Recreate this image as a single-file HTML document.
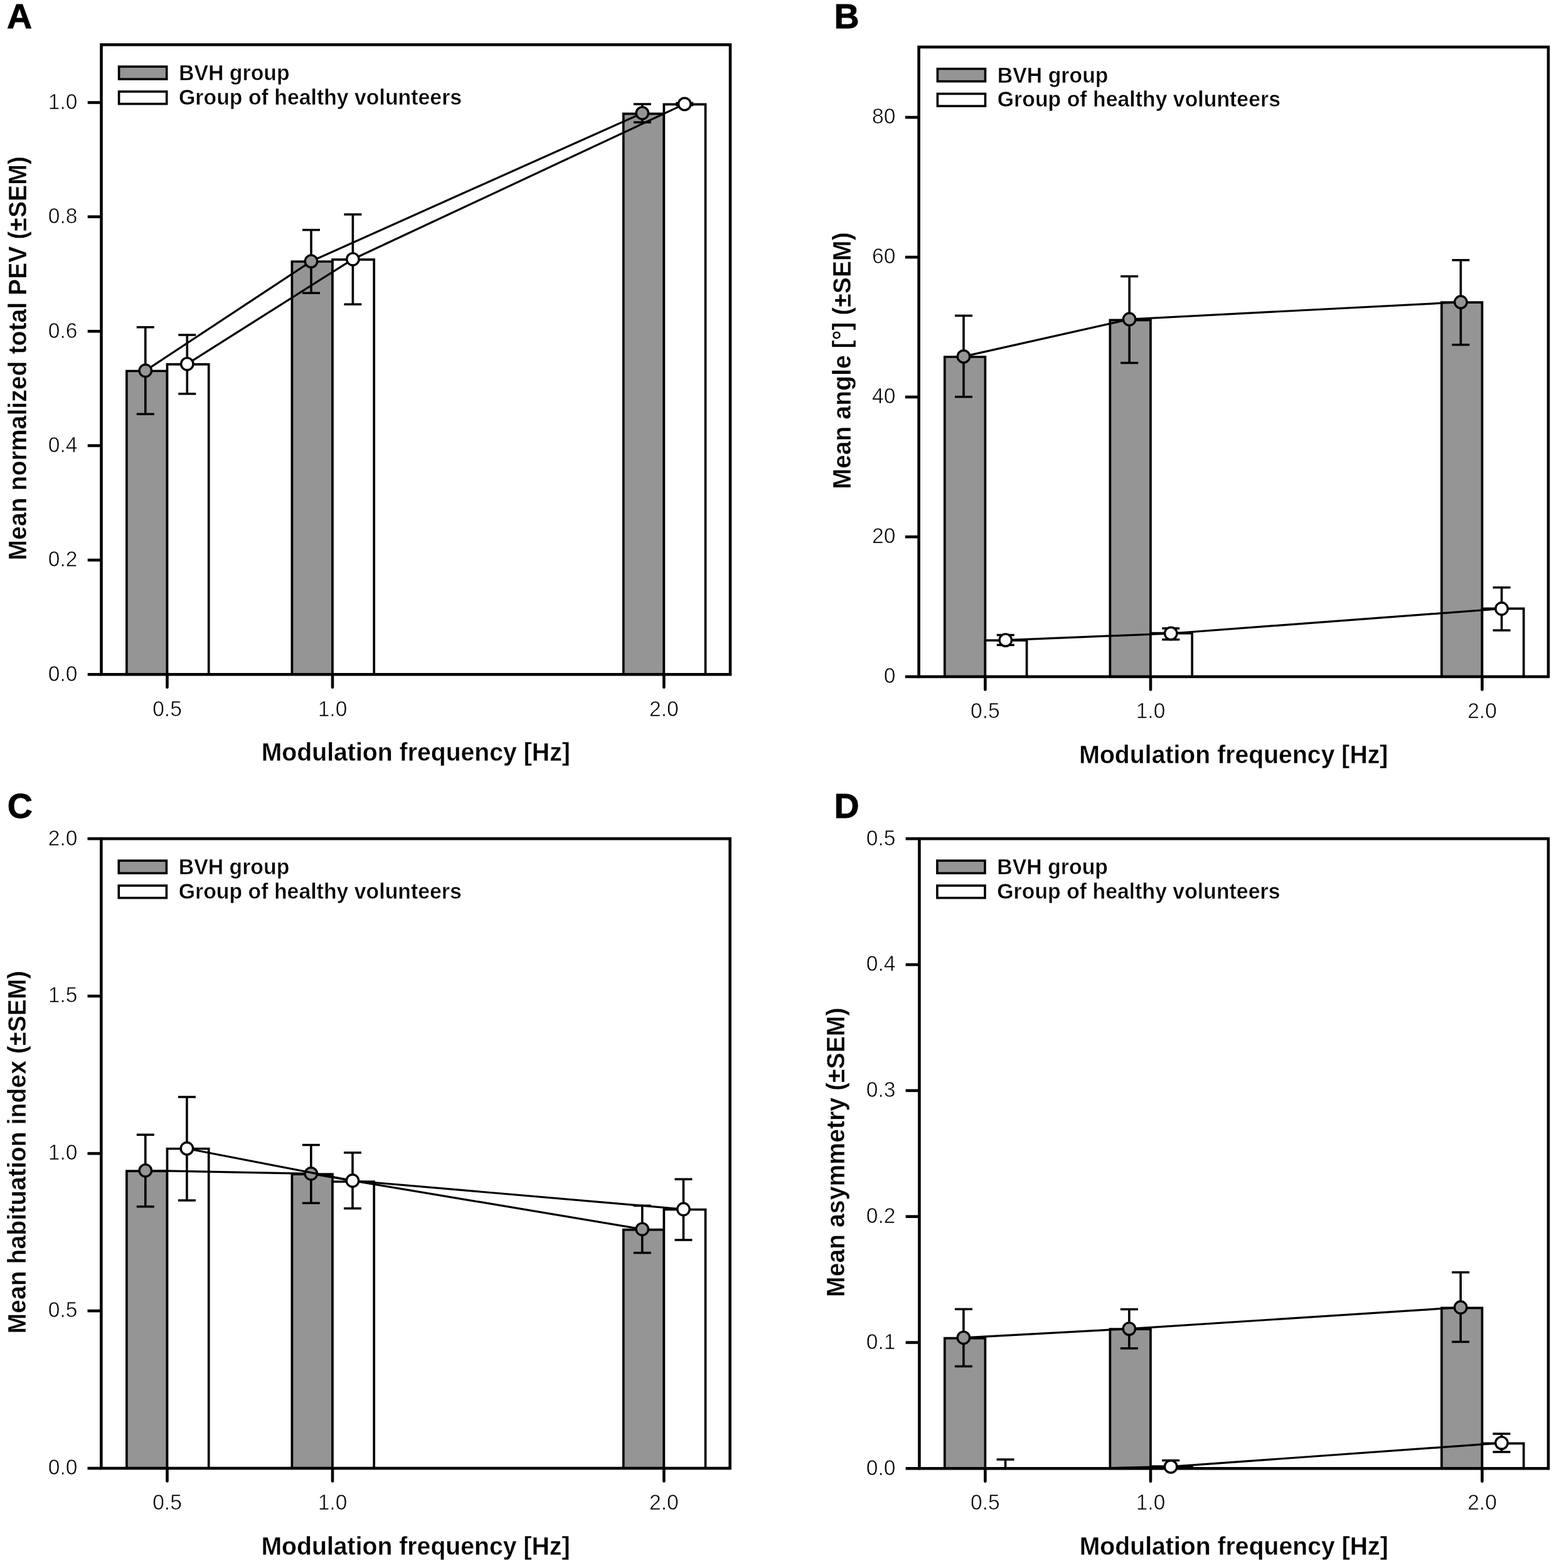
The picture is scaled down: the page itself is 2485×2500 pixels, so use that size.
<!DOCTYPE html><html><head><meta charset="utf-8"><title>Figure</title>
<style>html,body{margin:0;padding:0;background:#fff;}svg{display:block;}text{font-family:'Liberation Sans', Arial, Helvetica, sans-serif;fill:#000;}</style></head><body>
<svg width="2485" height="2500" viewBox="0 0 2485 2500">
<rect width="2485" height="2500" fill="#fff"/>
<g stroke="#000" fill="none">
<path d="M201.9 1075.3V591.5H266.5V1075.3" fill="#959595" stroke-width="3.7" stroke-linejoin="miter"/>
<path d="M266.5 1075.3V580.8H332.7V1075.3" fill="#fff" stroke-width="3.7" stroke-linejoin="miter"/>
<path d="M465.4 1075.3V417H530V1075.3" fill="#959595" stroke-width="3.7" stroke-linejoin="miter"/>
<path d="M530 1075.3V413.9H596.2V1075.3" fill="#fff" stroke-width="3.7" stroke-linejoin="miter"/>
<path d="M993.7 1075.3V181.3H1058.3V1075.3" fill="#959595" stroke-width="3.7" stroke-linejoin="miter"/>
<path d="M1058.3 1075.3V166.3H1124.5V1075.3" fill="#fff" stroke-width="3.7" stroke-linejoin="miter"/>
</g>
<rect x="161.5" y="71.3" width="1002.5" height="1004" fill="none" stroke="#000" stroke-width="4.6"/>
<g stroke="#000" fill="none">
<line x1="139.7" y1="1075.3" x2="161.5" y2="1075.3" stroke-width="4.6" stroke-linecap="butt"/>
<line x1="139.7" y1="893" x2="161.5" y2="893" stroke-width="4.6" stroke-linecap="butt"/>
<line x1="139.7" y1="710.5" x2="161.5" y2="710.5" stroke-width="4.6" stroke-linecap="butt"/>
<line x1="139.7" y1="528.2" x2="161.5" y2="528.2" stroke-width="4.6" stroke-linecap="butt"/>
<line x1="139.7" y1="345.6" x2="161.5" y2="345.6" stroke-width="4.6" stroke-linecap="butt"/>
<line x1="139.7" y1="163.5" x2="161.5" y2="163.5" stroke-width="4.6" stroke-linecap="butt"/>
<line x1="266.5" y1="1075.3" x2="266.5" y2="1095.8" stroke-width="4.6" stroke-linecap="round"/>
<line x1="530" y1="1075.3" x2="530" y2="1095.8" stroke-width="4.6" stroke-linecap="round"/>
<line x1="1058.3" y1="1075.3" x2="1058.3" y2="1095.8" stroke-width="4.6" stroke-linecap="round"/>
</g>
<g stroke="#000" fill="none">
<clipPath id="cAg"><rect x="161.5" y="71.3" width="1002.5" height="1004"/></clipPath>
<polyline points="231.8,591 496,416.6 1023.8,180.3" stroke-width="3.2" stroke-linejoin="round" clip-path="url(#cAg)"/>
<line x1="231.8" y1="521.7" x2="231.8" y2="660.2" stroke-width="3.6" stroke-linecap="butt"/>
<line x1="217.8" y1="521.7" x2="245.8" y2="521.7" stroke-width="3.5" stroke-linecap="butt"/>
<line x1="217.8" y1="660.2" x2="245.8" y2="660.2" stroke-width="3.5" stroke-linecap="butt"/>
<line x1="496" y1="366.6" x2="496" y2="467.2" stroke-width="3.6" stroke-linecap="butt"/>
<line x1="482" y1="366.6" x2="510" y2="366.6" stroke-width="3.5" stroke-linecap="butt"/>
<line x1="482" y1="467.2" x2="510" y2="467.2" stroke-width="3.5" stroke-linecap="butt"/>
<line x1="1023.8" y1="166" x2="1023.8" y2="195" stroke-width="3.6" stroke-linecap="butt"/>
<line x1="1009.8" y1="166" x2="1037.8" y2="166" stroke-width="3.5" stroke-linecap="butt"/>
<line x1="1009.8" y1="195" x2="1037.8" y2="195" stroke-width="3.5" stroke-linecap="butt"/>
<circle cx="231.8" cy="591" r="9.7" fill="#959595" stroke-width="3.4"/>
<circle cx="496" cy="416.6" r="9.7" fill="#959595" stroke-width="3.4"/>
<circle cx="1023.8" cy="180.3" r="9.7" fill="#959595" stroke-width="3.4"/>
</g>
<g stroke="#000" fill="none">
<clipPath id="cAw"><rect x="161.5" y="71.3" width="1002.5" height="1004"/></clipPath>
<polyline points="298.3,580.3 562.4,413.3 1091.2,165.9" stroke-width="3.2" stroke-linejoin="round" clip-path="url(#cAw)"/>
<line x1="298.3" y1="534" x2="298.3" y2="627.9" stroke-width="3.6" stroke-linecap="butt"/>
<line x1="284.3" y1="534" x2="312.3" y2="534" stroke-width="3.5" stroke-linecap="butt"/>
<line x1="284.3" y1="627.9" x2="312.3" y2="627.9" stroke-width="3.5" stroke-linecap="butt"/>
<line x1="562.4" y1="341.9" x2="562.4" y2="485.2" stroke-width="3.6" stroke-linecap="butt"/>
<line x1="548.4" y1="341.9" x2="576.4" y2="341.9" stroke-width="3.5" stroke-linecap="butt"/>
<line x1="548.4" y1="485.2" x2="576.4" y2="485.2" stroke-width="3.5" stroke-linecap="butt"/>
<line x1="1091.2" y1="164.3" x2="1091.2" y2="167.6" stroke-width="3.6" stroke-linecap="butt"/>
<line x1="1077.2" y1="164.3" x2="1105.2" y2="164.3" stroke-width="3.5" stroke-linecap="butt"/>
<line x1="1077.2" y1="167.6" x2="1105.2" y2="167.6" stroke-width="3.5" stroke-linecap="butt"/>
<circle cx="298.3" cy="580.3" r="9.7" fill="#fff" stroke-width="3.4"/>
<circle cx="562.4" cy="413.3" r="9.7" fill="#fff" stroke-width="3.4"/>
<circle cx="1091.2" cy="165.9" r="9.7" fill="#fff" stroke-width="3.4"/>
</g>
<text transform="translate(123.4 1085.6) scale(1 1.04)" font-size="33.6" font-weight="normal" text-anchor="end" stroke="#fff" stroke-width="0.6">0.0</text>
<text transform="translate(123.4 903.3) scale(1 1.04)" font-size="33.6" font-weight="normal" text-anchor="end" stroke="#fff" stroke-width="0.6">0.2</text>
<text transform="translate(123.4 720.8) scale(1 1.04)" font-size="33.6" font-weight="normal" text-anchor="end" stroke="#fff" stroke-width="0.6">0.4</text>
<text transform="translate(123.4 538.5) scale(1 1.04)" font-size="33.6" font-weight="normal" text-anchor="end" stroke="#fff" stroke-width="0.6">0.6</text>
<text transform="translate(123.4 355.9) scale(1 1.04)" font-size="33.6" font-weight="normal" text-anchor="end" stroke="#fff" stroke-width="0.6">0.8</text>
<text transform="translate(123.4 173.8) scale(1 1.04)" font-size="33.6" font-weight="normal" text-anchor="end" stroke="#fff" stroke-width="0.6">1.0</text>
<text transform="translate(266.5 1141.5) scale(1 1.04)" font-size="33.6" font-weight="normal" text-anchor="middle" stroke="#fff" stroke-width="0.6">0.5</text>
<text transform="translate(530 1141.5) scale(1 1.04)" font-size="33.6" font-weight="normal" text-anchor="middle" stroke="#fff" stroke-width="0.6">1.0</text>
<text transform="translate(1058.3 1141.5) scale(1 1.04)" font-size="33.6" font-weight="normal" text-anchor="middle" stroke="#fff" stroke-width="0.6">2.0</text>
<text transform="translate(662.75 1213.2) scale(1 1.04)" font-size="39.2" font-weight="bold" text-anchor="middle" stroke="#fff" stroke-width="0.35">Modulation frequency [Hz]</text>
<text transform="translate(41.8 571.3) rotate(-90) scale(1 1.04)" font-size="39.2" font-weight="bold" text-anchor="middle" stroke="#fff" stroke-width="0.35">Mean normalized total PEV (±SEM)</text>
<rect x="189.6" y="106.2" width="76.1" height="20" fill="#959595" stroke="#000" stroke-width="3.6"/>
<rect x="189.6" y="146" width="76.1" height="19.6" fill="#fff" stroke="#000" stroke-width="3.6"/>
<text transform="translate(285 128.3) scale(1 1.04)" font-size="33.85" font-weight="bold" text-anchor="start" stroke="#fff" stroke-width="0.5">BVH group</text>
<text transform="translate(285 166.6) scale(1 1.04)" font-size="33.85" font-weight="bold" text-anchor="start" stroke="#fff" stroke-width="0.5">Group of healthy volunteers</text>
<text transform="translate(11 45.3) scale(1 1.0)" font-size="55.5" font-weight="bold" text-anchor="start" stroke="#000" stroke-width="0.9">A</text>
<g stroke="#000" fill="none">
<path d="M1505.8 1078.9V569H1570.4V1078.9" fill="#959595" stroke-width="3.7" stroke-linejoin="miter"/>
<path d="M1570.4 1078.9V1021H1636.6V1078.9" fill="#fff" stroke-width="3.7" stroke-linejoin="miter"/>
<path d="M1769.4 1078.9V510.3H1834V1078.9" fill="#959595" stroke-width="3.7" stroke-linejoin="miter"/>
<path d="M1834 1078.9V1009.6H1900.2V1078.9" fill="#fff" stroke-width="3.7" stroke-linejoin="miter"/>
<path d="M2297.9 1078.9V482.1H2362.5V1078.9" fill="#959595" stroke-width="3.7" stroke-linejoin="miter"/>
<path d="M2362.5 1078.9V970.3H2428.7V1078.9" fill="#fff" stroke-width="3.7" stroke-linejoin="miter"/>
</g>
<rect x="1464.6" y="75" width="1003.4" height="1003.9" fill="none" stroke="#000" stroke-width="4.6"/>
<g stroke="#000" fill="none">
<line x1="1442.8" y1="1078.9" x2="1464.6" y2="1078.9" stroke-width="4.6" stroke-linecap="butt"/>
<line x1="1442.8" y1="855.95" x2="1464.6" y2="855.95" stroke-width="4.6" stroke-linecap="butt"/>
<line x1="1442.8" y1="633" x2="1464.6" y2="633" stroke-width="4.6" stroke-linecap="butt"/>
<line x1="1442.8" y1="410.05" x2="1464.6" y2="410.05" stroke-width="4.6" stroke-linecap="butt"/>
<line x1="1442.8" y1="187.1" x2="1464.6" y2="187.1" stroke-width="4.6" stroke-linecap="butt"/>
<line x1="1570.4" y1="1078.9" x2="1570.4" y2="1099.4" stroke-width="4.6" stroke-linecap="round"/>
<line x1="1834" y1="1078.9" x2="1834" y2="1099.4" stroke-width="4.6" stroke-linecap="round"/>
<line x1="2362.5" y1="1078.9" x2="2362.5" y2="1099.4" stroke-width="4.6" stroke-linecap="round"/>
</g>
<g stroke="#000" fill="none">
<clipPath id="cBg"><rect x="1464.6" y="75" width="1003.4" height="1003.9"/></clipPath>
<polyline points="1536,568.4 1800.2,509 2328.4,481.7" stroke-width="3.2" stroke-linejoin="round" clip-path="url(#cBg)"/>
<line x1="1536" y1="503.3" x2="1536" y2="632.7" stroke-width="3.6" stroke-linecap="butt"/>
<line x1="1522" y1="503.3" x2="1550" y2="503.3" stroke-width="3.5" stroke-linecap="butt"/>
<line x1="1522" y1="632.7" x2="1550" y2="632.7" stroke-width="3.5" stroke-linecap="butt"/>
<line x1="1800.2" y1="440.6" x2="1800.2" y2="578.6" stroke-width="3.6" stroke-linecap="butt"/>
<line x1="1786.2" y1="440.6" x2="1814.2" y2="440.6" stroke-width="3.5" stroke-linecap="butt"/>
<line x1="1786.2" y1="578.6" x2="1814.2" y2="578.6" stroke-width="3.5" stroke-linecap="butt"/>
<line x1="2328.4" y1="414.7" x2="2328.4" y2="549.7" stroke-width="3.6" stroke-linecap="butt"/>
<line x1="2314.4" y1="414.7" x2="2342.4" y2="414.7" stroke-width="3.5" stroke-linecap="butt"/>
<line x1="2314.4" y1="549.7" x2="2342.4" y2="549.7" stroke-width="3.5" stroke-linecap="butt"/>
<circle cx="1536" cy="568.4" r="9.7" fill="#959595" stroke-width="3.4"/>
<circle cx="1800.2" cy="509" r="9.7" fill="#959595" stroke-width="3.4"/>
<circle cx="2328.4" cy="481.7" r="9.7" fill="#959595" stroke-width="3.4"/>
</g>
<g stroke="#000" fill="none">
<clipPath id="cBw"><rect x="1464.6" y="75" width="1003.4" height="1003.9"/></clipPath>
<polyline points="1602.8,1020.6 1866.3,1010 2393.6,970.5" stroke-width="3.2" stroke-linejoin="round" clip-path="url(#cBw)"/>
<line x1="1602.8" y1="1012.5" x2="1602.8" y2="1028.4" stroke-width="3.6" stroke-linecap="butt"/>
<line x1="1588.8" y1="1012.5" x2="1616.8" y2="1012.5" stroke-width="3.5" stroke-linecap="butt"/>
<line x1="1588.8" y1="1028.4" x2="1616.8" y2="1028.4" stroke-width="3.5" stroke-linecap="butt"/>
<line x1="1866.3" y1="1001.9" x2="1866.3" y2="1019.7" stroke-width="3.6" stroke-linecap="butt"/>
<line x1="1852.3" y1="1001.9" x2="1880.3" y2="1001.9" stroke-width="3.5" stroke-linecap="butt"/>
<line x1="1852.3" y1="1019.7" x2="1880.3" y2="1019.7" stroke-width="3.5" stroke-linecap="butt"/>
<line x1="2393.6" y1="936.7" x2="2393.6" y2="1005" stroke-width="3.6" stroke-linecap="butt"/>
<line x1="2379.6" y1="936.7" x2="2407.6" y2="936.7" stroke-width="3.5" stroke-linecap="butt"/>
<line x1="2379.6" y1="1005" x2="2407.6" y2="1005" stroke-width="3.5" stroke-linecap="butt"/>
<circle cx="1602.8" cy="1020.6" r="9.7" fill="#fff" stroke-width="3.4"/>
<circle cx="1866.3" cy="1010" r="9.7" fill="#fff" stroke-width="3.4"/>
<circle cx="2393.6" cy="970.5" r="9.7" fill="#fff" stroke-width="3.4"/>
</g>
<text transform="translate(1427.4 1089.2) scale(1 1.04)" font-size="33.6" font-weight="normal" text-anchor="end" stroke="#fff" stroke-width="0.6">0</text>
<text transform="translate(1427.4 866.25) scale(1 1.04)" font-size="33.6" font-weight="normal" text-anchor="end" stroke="#fff" stroke-width="0.6">20</text>
<text transform="translate(1427.4 643.3) scale(1 1.04)" font-size="33.6" font-weight="normal" text-anchor="end" stroke="#fff" stroke-width="0.6">40</text>
<text transform="translate(1427.4 420.35) scale(1 1.04)" font-size="33.6" font-weight="normal" text-anchor="end" stroke="#fff" stroke-width="0.6">60</text>
<text transform="translate(1427.4 197.4) scale(1 1.04)" font-size="33.6" font-weight="normal" text-anchor="end" stroke="#fff" stroke-width="0.6">80</text>
<text transform="translate(1570.4 1145.2) scale(1 1.04)" font-size="33.6" font-weight="normal" text-anchor="middle" stroke="#fff" stroke-width="0.6">0.5</text>
<text transform="translate(1834 1145.2) scale(1 1.04)" font-size="33.6" font-weight="normal" text-anchor="middle" stroke="#fff" stroke-width="0.6">1.0</text>
<text transform="translate(2362.5 1145.2) scale(1 1.04)" font-size="33.6" font-weight="normal" text-anchor="middle" stroke="#fff" stroke-width="0.6">2.0</text>
<text transform="translate(1966.3 1216.8) scale(1 1.04)" font-size="39.2" font-weight="bold" text-anchor="middle" stroke="#fff" stroke-width="0.35">Modulation frequency [Hz]</text>
<text transform="translate(1355.6 574.95) rotate(-90) scale(1 1.04)" font-size="39.2" font-weight="bold" text-anchor="middle" stroke="#fff" stroke-width="0.35">Mean angle [°] (±SEM)</text>
<rect x="1494.4" y="109.7" width="76.1" height="20" fill="#959595" stroke="#000" stroke-width="3.6"/>
<rect x="1494.4" y="149.5" width="76.1" height="19.6" fill="#fff" stroke="#000" stroke-width="3.6"/>
<text transform="translate(1589.8 131.8) scale(1 1.04)" font-size="33.85" font-weight="bold" text-anchor="start" stroke="#fff" stroke-width="0.5">BVH group</text>
<text transform="translate(1589.8 170.1) scale(1 1.04)" font-size="33.85" font-weight="bold" text-anchor="start" stroke="#fff" stroke-width="0.5">Group of healthy volunteers</text>
<text transform="translate(1329.6 45) scale(1 1.0)" font-size="55.5" font-weight="bold" text-anchor="start" stroke="#000" stroke-width="0.9">B</text>
<g stroke="#000" fill="none">
<path d="M201.9 2341V1867.2H266.5V2341" fill="#959595" stroke-width="3.7" stroke-linejoin="miter"/>
<path d="M266.5 2341V1831.5H332.7V2341" fill="#fff" stroke-width="3.7" stroke-linejoin="miter"/>
<path d="M465.4 2341V1872.2H530V2341" fill="#959595" stroke-width="3.7" stroke-linejoin="miter"/>
<path d="M530 2341V1884H596.2V2341" fill="#fff" stroke-width="3.7" stroke-linejoin="miter"/>
<path d="M993.7 2341V1960.7H1058.3V2341" fill="#959595" stroke-width="3.7" stroke-linejoin="miter"/>
<path d="M1058.3 2341V1928.5H1124.5V2341" fill="#fff" stroke-width="3.7" stroke-linejoin="miter"/>
</g>
<rect x="161.3" y="1337.2" width="1002.3" height="1003.8" fill="none" stroke="#000" stroke-width="4.6"/>
<g stroke="#000" fill="none">
<line x1="139.5" y1="2341" x2="161.3" y2="2341" stroke-width="4.6" stroke-linecap="butt"/>
<line x1="139.5" y1="2090.05" x2="161.3" y2="2090.05" stroke-width="4.6" stroke-linecap="butt"/>
<line x1="139.5" y1="1839.1" x2="161.3" y2="1839.1" stroke-width="4.6" stroke-linecap="butt"/>
<line x1="139.5" y1="1588.15" x2="161.3" y2="1588.15" stroke-width="4.6" stroke-linecap="butt"/>
<line x1="139.5" y1="1337.2" x2="161.3" y2="1337.2" stroke-width="4.6" stroke-linecap="butt"/>
<line x1="266.5" y1="2341" x2="266.5" y2="2361.5" stroke-width="4.6" stroke-linecap="round"/>
<line x1="530" y1="2341" x2="530" y2="2361.5" stroke-width="4.6" stroke-linecap="round"/>
<line x1="1058.3" y1="2341" x2="1058.3" y2="2361.5" stroke-width="4.6" stroke-linecap="round"/>
</g>
<g stroke="#000" fill="none">
<clipPath id="cCg"><rect x="161.3" y="1337.2" width="1002.3" height="1003.8"/></clipPath>
<polyline points="231.8,1866.3 495.8,1871.3 1023.7,1959.8" stroke-width="3.2" stroke-linejoin="round" clip-path="url(#cCg)"/>
<line x1="231.8" y1="1809.2" x2="231.8" y2="1923.8" stroke-width="3.6" stroke-linecap="butt"/>
<line x1="217.8" y1="1809.2" x2="245.8" y2="1809.2" stroke-width="3.5" stroke-linecap="butt"/>
<line x1="217.8" y1="1923.8" x2="245.8" y2="1923.8" stroke-width="3.5" stroke-linecap="butt"/>
<line x1="495.8" y1="1825.5" x2="495.8" y2="1918.2" stroke-width="3.6" stroke-linecap="butt"/>
<line x1="481.8" y1="1825.5" x2="509.8" y2="1825.5" stroke-width="3.5" stroke-linecap="butt"/>
<line x1="481.8" y1="1918.2" x2="509.8" y2="1918.2" stroke-width="3.5" stroke-linecap="butt"/>
<line x1="1023.7" y1="1922.3" x2="1023.7" y2="1997.5" stroke-width="3.6" stroke-linecap="butt"/>
<line x1="1009.7" y1="1922.3" x2="1037.7" y2="1922.3" stroke-width="3.5" stroke-linecap="butt"/>
<line x1="1009.7" y1="1997.5" x2="1037.7" y2="1997.5" stroke-width="3.5" stroke-linecap="butt"/>
<circle cx="231.8" cy="1866.3" r="9.7" fill="#959595" stroke-width="3.4"/>
<circle cx="495.8" cy="1871.3" r="9.7" fill="#959595" stroke-width="3.4"/>
<circle cx="1023.7" cy="1959.8" r="9.7" fill="#959595" stroke-width="3.4"/>
</g>
<g stroke="#000" fill="none">
<clipPath id="cCw"><rect x="161.3" y="1337.2" width="1002.3" height="1003.8"/></clipPath>
<polyline points="297.9,1831.2 562,1882.5 1089.4,1928" stroke-width="3.2" stroke-linejoin="round" clip-path="url(#cCw)"/>
<line x1="297.9" y1="1749" x2="297.9" y2="1913.9" stroke-width="3.6" stroke-linecap="butt"/>
<line x1="283.9" y1="1749" x2="311.9" y2="1749" stroke-width="3.5" stroke-linecap="butt"/>
<line x1="283.9" y1="1913.9" x2="311.9" y2="1913.9" stroke-width="3.5" stroke-linecap="butt"/>
<line x1="562" y1="1837.8" x2="562" y2="1926.7" stroke-width="3.6" stroke-linecap="butt"/>
<line x1="548" y1="1837.8" x2="576" y2="1837.8" stroke-width="3.5" stroke-linecap="butt"/>
<line x1="548" y1="1926.7" x2="576" y2="1926.7" stroke-width="3.5" stroke-linecap="butt"/>
<line x1="1089.4" y1="1880.1" x2="1089.4" y2="1977" stroke-width="3.6" stroke-linecap="butt"/>
<line x1="1075.4" y1="1880.1" x2="1103.4" y2="1880.1" stroke-width="3.5" stroke-linecap="butt"/>
<line x1="1075.4" y1="1977" x2="1103.4" y2="1977" stroke-width="3.5" stroke-linecap="butt"/>
<circle cx="297.9" cy="1831.2" r="9.7" fill="#fff" stroke-width="3.4"/>
<circle cx="562" cy="1882.5" r="9.7" fill="#fff" stroke-width="3.4"/>
<circle cx="1089.4" cy="1928" r="9.7" fill="#fff" stroke-width="3.4"/>
</g>
<text transform="translate(123.4 2351.3) scale(1 1.04)" font-size="33.6" font-weight="normal" text-anchor="end" stroke="#fff" stroke-width="0.6">0.0</text>
<text transform="translate(123.4 2100.35) scale(1 1.04)" font-size="33.6" font-weight="normal" text-anchor="end" stroke="#fff" stroke-width="0.6">0.5</text>
<text transform="translate(123.4 1849.4) scale(1 1.04)" font-size="33.6" font-weight="normal" text-anchor="end" stroke="#fff" stroke-width="0.6">1.0</text>
<text transform="translate(123.4 1598.45) scale(1 1.04)" font-size="33.6" font-weight="normal" text-anchor="end" stroke="#fff" stroke-width="0.6">1.5</text>
<text transform="translate(123.4 1347.5) scale(1 1.04)" font-size="33.6" font-weight="normal" text-anchor="end" stroke="#fff" stroke-width="0.6">2.0</text>
<text transform="translate(266.5 2407) scale(1 1.04)" font-size="33.6" font-weight="normal" text-anchor="middle" stroke="#fff" stroke-width="0.6">0.5</text>
<text transform="translate(530 2407) scale(1 1.04)" font-size="33.6" font-weight="normal" text-anchor="middle" stroke="#fff" stroke-width="0.6">1.0</text>
<text transform="translate(1058.3 2407) scale(1 1.04)" font-size="33.6" font-weight="normal" text-anchor="middle" stroke="#fff" stroke-width="0.6">2.0</text>
<text transform="translate(662.45 2478.6) scale(1 1.04)" font-size="39.2" font-weight="bold" text-anchor="middle" stroke="#fff" stroke-width="0.35">Modulation frequency [Hz]</text>
<text transform="translate(41.3 1837.1) rotate(-90) scale(1 1.04)" font-size="39.2" font-weight="bold" text-anchor="middle" stroke="#fff" stroke-width="0.35">Mean habituation index (±SEM)</text>
<rect x="189.3" y="1372.2" width="76.1" height="20" fill="#959595" stroke="#000" stroke-width="3.6"/>
<rect x="189.3" y="1412" width="76.1" height="19.6" fill="#fff" stroke="#000" stroke-width="3.6"/>
<text transform="translate(284.7 1394.3) scale(1 1.04)" font-size="33.85" font-weight="bold" text-anchor="start" stroke="#fff" stroke-width="0.5">BVH group</text>
<text transform="translate(284.7 1432.6) scale(1 1.04)" font-size="33.85" font-weight="bold" text-anchor="start" stroke="#fff" stroke-width="0.5">Group of healthy volunteers</text>
<text transform="translate(11.8 1304) scale(1 1.0)" font-size="55.5" font-weight="bold" text-anchor="start" stroke="#000" stroke-width="0.9">C</text>
<g stroke="#000" fill="none">
<path d="M1505.8 2341.3V2133.7H1570.4V2341.3" fill="#959595" stroke-width="3.7" stroke-linejoin="miter"/>
<path d="M1769.4 2341.3V2119.2H1834V2341.3" fill="#959595" stroke-width="3.7" stroke-linejoin="miter"/>
<path d="M1834 2341.3V2338H1900.2V2341.3" fill="#fff" stroke-width="3.7" stroke-linejoin="miter"/>
<path d="M2297.9 2341.3V2085.3H2362.5V2341.3" fill="#959595" stroke-width="3.7" stroke-linejoin="miter"/>
<path d="M2362.5 2341.3V2301.3H2428.7V2341.3" fill="#fff" stroke-width="3.7" stroke-linejoin="miter"/>
</g>
<rect x="1465.4" y="1337.2" width="1002.6" height="1004.1" fill="none" stroke="#000" stroke-width="4.6"/>
<g stroke="#000" fill="none">
<line x1="1443.6" y1="2341.3" x2="1465.4" y2="2341.3" stroke-width="4.6" stroke-linecap="butt"/>
<line x1="1443.6" y1="2140.48" x2="1465.4" y2="2140.48" stroke-width="4.6" stroke-linecap="butt"/>
<line x1="1443.6" y1="1939.66" x2="1465.4" y2="1939.66" stroke-width="4.6" stroke-linecap="butt"/>
<line x1="1443.6" y1="1738.84" x2="1465.4" y2="1738.84" stroke-width="4.6" stroke-linecap="butt"/>
<line x1="1443.6" y1="1538.02" x2="1465.4" y2="1538.02" stroke-width="4.6" stroke-linecap="butt"/>
<line x1="1443.6" y1="1337.2" x2="1465.4" y2="1337.2" stroke-width="4.6" stroke-linecap="butt"/>
<line x1="1570.4" y1="2341.3" x2="1570.4" y2="2361.8" stroke-width="4.6" stroke-linecap="round"/>
<line x1="1834" y1="2341.3" x2="1834" y2="2361.8" stroke-width="4.6" stroke-linecap="round"/>
<line x1="2362.5" y1="2341.3" x2="2362.5" y2="2361.8" stroke-width="4.6" stroke-linecap="round"/>
</g>
<g stroke="#000" fill="none">
<clipPath id="cDg"><rect x="1465.4" y="1337.2" width="1002.6" height="1004.1"/></clipPath>
<polyline points="1535.9,2132.8 1799.9,2118.6 2328.2,2084.5" stroke-width="3.2" stroke-linejoin="round" clip-path="url(#cDg)"/>
<line x1="1535.9" y1="2087.3" x2="1535.9" y2="2178.5" stroke-width="3.6" stroke-linecap="butt"/>
<line x1="1521.9" y1="2087.3" x2="1549.9" y2="2087.3" stroke-width="3.5" stroke-linecap="butt"/>
<line x1="1521.9" y1="2178.5" x2="1549.9" y2="2178.5" stroke-width="3.5" stroke-linecap="butt"/>
<line x1="1799.9" y1="2087.5" x2="1799.9" y2="2149.8" stroke-width="3.6" stroke-linecap="butt"/>
<line x1="1785.9" y1="2087.5" x2="1813.9" y2="2087.5" stroke-width="3.5" stroke-linecap="butt"/>
<line x1="1785.9" y1="2149.8" x2="1813.9" y2="2149.8" stroke-width="3.5" stroke-linecap="butt"/>
<line x1="2328.2" y1="2028.6" x2="2328.2" y2="2139.4" stroke-width="3.6" stroke-linecap="butt"/>
<line x1="2314.2" y1="2028.6" x2="2342.2" y2="2028.6" stroke-width="3.5" stroke-linecap="butt"/>
<line x1="2314.2" y1="2139.4" x2="2342.2" y2="2139.4" stroke-width="3.5" stroke-linecap="butt"/>
<circle cx="1535.9" cy="2132.8" r="9.7" fill="#959595" stroke-width="3.4"/>
<circle cx="1799.9" cy="2118.6" r="9.7" fill="#959595" stroke-width="3.4"/>
<circle cx="2328.2" cy="2084.5" r="9.7" fill="#959595" stroke-width="3.4"/>
</g>
<g stroke="#000" fill="none">
<clipPath id="cDw"><rect x="1465.4" y="1337.2" width="1002.6" height="1004.1"/></clipPath>
<polyline points="1602.6,2344.3 1866.2,2338.4 2393.5,2300.6" stroke-width="3.2" stroke-linejoin="round" clip-path="url(#cDw)"/>
<line x1="1602.6" y1="2327" x2="1602.6" y2="2341.3" stroke-width="3.6" stroke-linecap="butt"/>
<line x1="1588.6" y1="2327" x2="1616.6" y2="2327" stroke-width="3.5" stroke-linecap="butt"/>
<line x1="1866.2" y1="2328.5" x2="1866.2" y2="2341.3" stroke-width="3.6" stroke-linecap="butt"/>
<line x1="1852.2" y1="2328.5" x2="1880.2" y2="2328.5" stroke-width="3.5" stroke-linecap="butt"/>
<line x1="2393.5" y1="2286" x2="2393.5" y2="2315" stroke-width="3.6" stroke-linecap="butt"/>
<line x1="2379.5" y1="2286" x2="2407.5" y2="2286" stroke-width="3.5" stroke-linecap="butt"/>
<line x1="2379.5" y1="2315" x2="2407.5" y2="2315" stroke-width="3.5" stroke-linecap="butt"/>
<circle cx="1866.2" cy="2338.4" r="9.7" fill="#fff" stroke-width="3.4"/>
<circle cx="2393.5" cy="2300.6" r="9.7" fill="#fff" stroke-width="3.4"/>
</g>
<text transform="translate(1427.4 2351.6) scale(1 1.04)" font-size="33.6" font-weight="normal" text-anchor="end" stroke="#fff" stroke-width="0.6">0.0</text>
<text transform="translate(1427.4 2150.78) scale(1 1.04)" font-size="33.6" font-weight="normal" text-anchor="end" stroke="#fff" stroke-width="0.6">0.1</text>
<text transform="translate(1427.4 1949.96) scale(1 1.04)" font-size="33.6" font-weight="normal" text-anchor="end" stroke="#fff" stroke-width="0.6">0.2</text>
<text transform="translate(1427.4 1749.14) scale(1 1.04)" font-size="33.6" font-weight="normal" text-anchor="end" stroke="#fff" stroke-width="0.6">0.3</text>
<text transform="translate(1427.4 1548.32) scale(1 1.04)" font-size="33.6" font-weight="normal" text-anchor="end" stroke="#fff" stroke-width="0.6">0.4</text>
<text transform="translate(1427.4 1347.5) scale(1 1.04)" font-size="33.6" font-weight="normal" text-anchor="end" stroke="#fff" stroke-width="0.6">0.5</text>
<text transform="translate(1570.4 2407.3) scale(1 1.04)" font-size="33.6" font-weight="normal" text-anchor="middle" stroke="#fff" stroke-width="0.6">0.5</text>
<text transform="translate(1834 2407.3) scale(1 1.04)" font-size="33.6" font-weight="normal" text-anchor="middle" stroke="#fff" stroke-width="0.6">1.0</text>
<text transform="translate(2362.5 2407.3) scale(1 1.04)" font-size="33.6" font-weight="normal" text-anchor="middle" stroke="#fff" stroke-width="0.6">2.0</text>
<text transform="translate(1966.7 2478.6) scale(1 1.04)" font-size="39.2" font-weight="bold" text-anchor="middle" stroke="#fff" stroke-width="0.35">Modulation frequency [Hz]</text>
<text transform="translate(1345.8 1837.25) rotate(-90) scale(1 1.04)" font-size="39.2" font-weight="bold" text-anchor="middle" stroke="#fff" stroke-width="0.35">Mean asymmetry (±SEM)</text>
<rect x="1493.9" y="1372.2" width="76.1" height="20" fill="#959595" stroke="#000" stroke-width="3.6"/>
<rect x="1493.9" y="1412" width="76.1" height="19.6" fill="#fff" stroke="#000" stroke-width="3.6"/>
<text transform="translate(1589.3 1394.3) scale(1 1.04)" font-size="33.85" font-weight="bold" text-anchor="start" stroke="#fff" stroke-width="0.5">BVH group</text>
<text transform="translate(1589.3 1432.6) scale(1 1.04)" font-size="33.85" font-weight="bold" text-anchor="start" stroke="#fff" stroke-width="0.5">Group of healthy volunteers</text>
<text transform="translate(1329.4 1304.3) scale(1 1.0)" font-size="55.5" font-weight="bold" text-anchor="start" stroke="#000" stroke-width="0.9">D</text>
</svg></body></html>
